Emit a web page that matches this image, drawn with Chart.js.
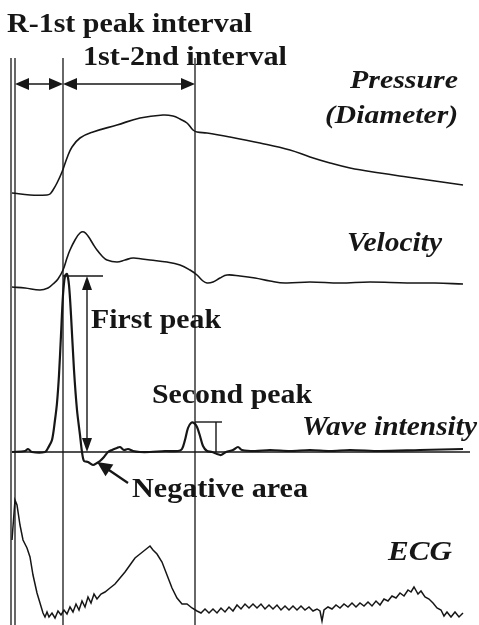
<!DOCTYPE html>
<html>
<head>
<meta charset="utf-8">
<script src="https://cdn.jsdelivr.net/npm/chart.js@4.4.1/dist/chart.umd.min.js"></script>
<style>
    html, body { margin: 0; padding: 0; background: #fff; }
    #wrap { width: 479px; height: 625px; }
</style>
</head>
<body>
<div id="wrap"><canvas id="waveChart" width="479" height="625"></canvas></div>
<script>
// time in samples (2.5 ms), value in arbitrary offset units (traces stacked)
const pressureTrace = [[0,432],[18,430],[35,430],[38,431],[41,435],[45,442],[50,453],[55,467],[60,478],[68,487],[81,493],[105,500],[128,507],[151,510],[161,509],[168,506],[175,502],[181,495],[185,493],[195,492],[218,488],[248,482],[278,475],[298,468],[318,462],[338,457],[368,452],[395,448],[423,444],[451,440]];

const velocityTrace = [[0,338],[13,337],[28,335],[36,337],[41,341],[46,346],[51,355],[55,367],[58,375],[63,385],[68,392],[72,393],[76,389],[81,381],[85,375],[90,369],[95,365],[105,363],[113,365],[121,367],[130,366],[138,365],[155,363],[168,360],[178,355],[185,350],[191,344],[195,342],[201,343],[208,347],[215,350],[228,349],[243,347],[258,344],[273,342],[298,343],[328,342],[358,343],[395,342],[423,342],[451,341]];

const waveIntensityTrace = [[0,173],[13,174],[16,176],[20,173],[33,173],[36,177],[40,185],[43,205],[45,222],[47,250],[49,290],[51,330],[53,349],[55,351],[57,340],[59,310],[62,255],[65,215],[68,190],[70,173],[72,164],[76,163],[81,160],[85,162],[88,164],[92,168],[96,173],[100,175],[105,177],[108,178],[112,175],[116,176],[121,174],[128,173],[138,173],[153,174],[166,174],[170,176],[173,185],[176,197],[179,202],[182,202],[185,198],[188,189],[191,179],[195,174],[200,173],[205,171],[209,170],[214,173],[221,175],[226,178],[230,175],[243,174],[258,175],[278,174],[298,175],[318,174],[338,175],[368,174],[408,175],[451,176]];
const waveBaseline = [[0,173],[458,173]];

const ecgTrace = [[0,85],[3,125],[5,120],[8,100],[11,85],[15,77],[18,68],[21,50],[25,32],[28,22],[31,12],[33,8],[35,13],[37,8],[40,12],[43,7],[46,14],[49,10],[52,15],[55,11],[58,18],[61,13],[64,21],[67,15],[70,24],[73,18],[76,28],[79,22],[82,31],[85,26],[89,31],[93,33],[98,37],[103,41],[108,47],[113,53],[118,60],[123,67],[128,71],[133,75],[138,79],[141,75],[145,71],[150,63],[155,50],[160,37],[165,27],[170,21],[175,21],[180,17],[185,14],[189,12],[193,16],[197,12],[201,16],[205,12],[209,17],[213,13],[217,18],[221,14],[225,20],[229,16],[233,21],[237,17],[241,21],[245,17],[249,21],[253,16],[257,20],[261,16],[265,20],[269,15],[273,19],[277,15],[281,19],[285,15],[289,19],[293,15],[297,18],[301,14],[305,16],[308,14],[310,4],[312,15],[316,18],[320,16],[324,20],[328,17],[332,21],[336,18],[340,22],[344,18],[348,22],[352,19],[356,23],[360,19],[364,24],[368,20],[372,26],[376,24],[380,29],[384,27],[388,32],[392,29],[396,35],[399,33],[402,38],[406,31],[409,34],[413,28],[417,26],[421,22],[425,17],[429,15],[432,9],[435,13],[439,8],[443,13],[447,8],[451,12]];

// event times: R wave (double line), first peak, second peak
const rWaveTimes = [-1, 3];
const firstPeakTime = 51;
const secondPeakTime = 183;
const firstPeak = { value: 349, base: 173, arrowAt: 75, barEnd: 91 };
const secondPeak = { value: 203, base: 173, tickAt: 204, barEnd: 210 };
const negativeArea = { tip: [85, 163], tail: [116, 142] };

const INK = '#161616';

function toPoints(arr) {
    return arr.map(([x, y]) => ({ x, y }));
}

function arrowHead(ctx, x1, y1, x2, y2, len, half) {
    // filled head at (x2, y2) pointing away from (x1, y1)
    const a = Math.atan2(y2 - y1, x2 - x1);
    ctx.beginPath();
    ctx.moveTo(x2, y2);
    ctx.lineTo(x2 - len * Math.cos(a) + half * Math.sin(a), y2 - len * Math.sin(a) - half * Math.cos(a));
    ctx.lineTo(x2 - len * Math.cos(a) - half * Math.sin(a), y2 - len * Math.sin(a) + half * Math.cos(a));
    ctx.closePath();
    ctx.fill();
}

function line(ctx, x1, y1, x2, y2) {
    ctx.beginPath();
    ctx.moveTo(x1, y1);
    ctx.lineTo(x2, y2);
    ctx.stroke();
}

function label(ctx, text, x, base, size, italic, width) {
    ctx.save();
    ctx.font = `${italic ? 'italic ' : ''}bold ${size}px "Liberation Serif", serif`;
    const w = ctx.measureText(text).width;
    ctx.translate(x, base);
    ctx.scale(width / w, 1);
    ctx.fillText(text, 0, 0);
    ctx.restore();
}

const annotations = {
    id: 'annotations',
    afterDatasetsDraw(chart) {
        const { ctx, scales: { x, y } } = chart;
        const px = v => x.getPixelForValue(v);
        const py = v => y.getPixelForValue(v);
        ctx.save();
        ctx.strokeStyle = INK;
        ctx.fillStyle = INK;
        ctx.lineWidth = 1.3;

        // vertical event lines
        const top = 567;
        [...rWaveTimes, firstPeakTime, secondPeakTime].forEach(t => {
            line(ctx, px(t), py(top), px(t), chart.chartArea.bottom);
        });

        // interval arrows
        const ay = py(541);
        ctx.lineWidth = 1.6;
        [[rWaveTimes[1], firstPeakTime], [firstPeakTime, secondPeakTime]].forEach(([a, b]) => {
            line(ctx, px(a) + 4, ay, px(b) - 4, ay);
            arrowHead(ctx, px(b), ay, px(a), ay, 14, 6);
            arrowHead(ctx, px(a), ay, px(b), ay, 14, 6);
        });

        // first peak height
        ctx.lineWidth = 1.4;
        line(ctx, px(firstPeakTime), py(firstPeak.value), px(firstPeak.barEnd), py(firstPeak.value));
        line(ctx, px(firstPeak.arrowAt), py(firstPeak.value) + 8, px(firstPeak.arrowAt), py(firstPeak.base) - 8);
        arrowHead(ctx, px(firstPeak.arrowAt), py(firstPeak.base), px(firstPeak.arrowAt), py(firstPeak.value), 14, 5);
        arrowHead(ctx, px(firstPeak.arrowAt), py(firstPeak.value), px(firstPeak.arrowAt), py(firstPeak.base), 14, 5);

        // second peak height
        line(ctx, px(secondPeakTime), py(secondPeak.value), px(secondPeak.barEnd), py(secondPeak.value));
        line(ctx, px(secondPeak.tickAt), py(secondPeak.value), px(secondPeak.tickAt), py(secondPeak.base));

        // negative area pointer
        const [tx, ty] = negativeArea.tip;
        const [sx, sy] = negativeArea.tail;
        ctx.lineWidth = 2.2;
        line(ctx, px(sx), py(sy), px(tx) + 6, py(ty) + 4);
        arrowHead(ctx, px(sx), py(sy), px(tx), py(ty), 15, 7);

        // labels
        label(ctx, 'R-1st peak interval', 7, 32, 28, false, 245);
        label(ctx, '1st-2nd interval', 83, 65, 28, false, 204);
        label(ctx, 'Pressure', 350, 88, 26, true, 108);
        label(ctx, '(Diameter)', 325, 123, 26, true, 133);
        label(ctx, 'Velocity', 347, 251, 27, true, 95);
        label(ctx, 'First peak', 91, 328, 28, false, 130);
        label(ctx, 'Second peak', 152, 403, 28, false, 160);
        label(ctx, 'Wave intensity', 302, 435, 27, true, 175);
        label(ctx, 'Negative area', 132, 497, 28, false, 176);
        label(ctx, 'ECG', 388, 560, 27, true, 64);
        ctx.restore();
    }
};

const trace = (data, width, tension) => ({
    data: toPoints(data),
    borderColor: INK,
    borderWidth: width,
    pointRadius: 0,
    tension: tension,
    fill: false
});

const chart = new Chart(document.getElementById('waveChart'), {
    type: 'line',
    data: {
        datasets: [
            trace(pressureTrace, 1.6, 0.4),
            trace(velocityTrace, 1.6, 0.4),
            trace(waveBaseline, 1.6, 0),
            trace(waveIntensityTrace, 2.2, 0.3),
            trace(ecgTrace, 1.5, 0)
        ]
    },
    options: {
        responsive: false,
        animation: false,
        events: [],
        layout: { padding: 0 },
        plugins: {
            legend: { display: false },
            tooltip: { enabled: false }
        },
        scales: {
            x: { type: 'linear', min: -12, max: 467, display: false },
            y: { min: 0, max: 625, display: false }
        }
    },
    plugins: [annotations]
});

// redraw once the serif faces are ready so labels use them
Promise.all([
    document.fonts.load('bold 28px "Liberation Serif"'),
    document.fonts.load('italic bold 28px "Liberation Serif"')
]).then(() => chart.draw());
</script>
</body>
</html>
